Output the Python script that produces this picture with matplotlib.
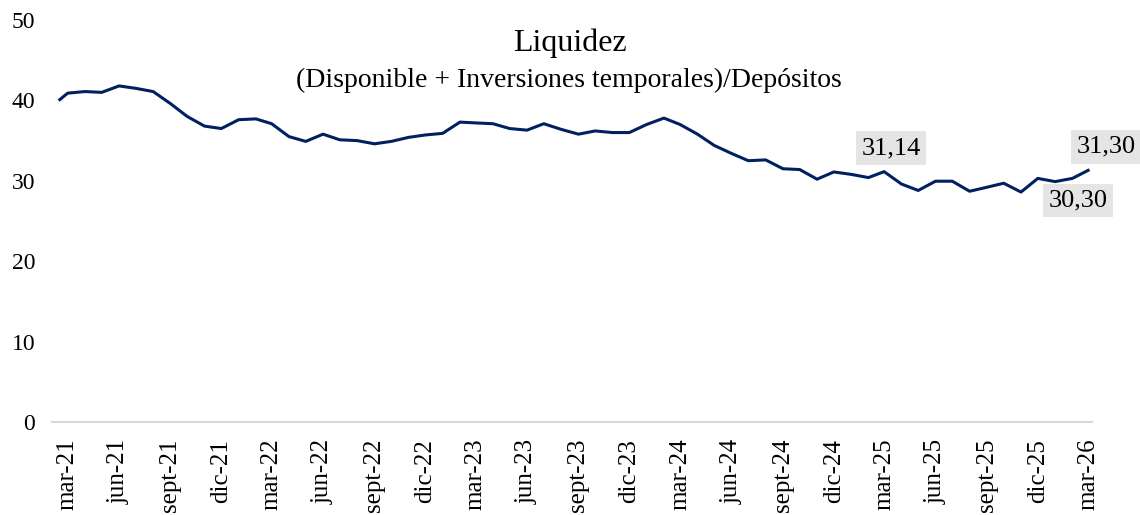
import numpy as np
import pandas as pd
import matplotlib
matplotlib.use("Agg")
import matplotlib.pyplot as plt

plt.rcParams['font.family'] = ['Liberation Serif', 'DejaVu Serif']

# Monthly liquidity ratio (%), first value is the opening point mid-Feb 2021
dates = pd.to_datetime(['2021-02-15']).append(
    pd.date_range('2021-03-01', '2026-03-01', freq='MS'))
liquidez = [
    40.1, 40.9, 41.1, 41.0, 41.8, 41.5, 41.1, 39.6, 38.0, 36.8, 36.5, 37.6, 37.7,
    37.1, 35.5, 34.9, 35.8, 35.1, 35.0, 34.6, 34.9, 35.4, 35.7, 35.9,
    37.3, 37.2, 37.1, 36.5, 36.3, 37.1, 36.4, 35.8, 36.2, 36.0, 36.0,
    37.0, 37.8, 37.0, 35.8, 34.4, 33.4, 32.5, 32.6, 31.5, 31.4, 30.2,
    31.1, 30.8, 30.4, 31.14, 29.6, 28.8, 29.95, 29.95, 28.7, 29.2, 29.7,
    28.6, 30.3, 29.9, 30.30, 31.30,
]

tick_dates = pd.date_range('2021-03-01', '2026-03-01', freq='3MS')
mes = {3: 'mar', 6: 'jun', 9: 'sept', 12: 'dic'}
tick_labels = [f"{mes[d.month]}-{d.strftime('%y')}" for d in tick_dates]

# data labels: (date, value text, offset in points)
etiquetas = [
    ('2025-03-01', '31,14', (5, 17)),
    ('2026-02-01', '30,30', (4, -16)),
    ('2026-03-01', '31,30', (13, 17)),
]

fig = plt.figure(figsize=(11.4, 5.15), dpi=100)
ax = fig.add_axes([52 / 1140, 93 / 515, 1040 / 1140, 402 / 515])

ax.plot(dates, liquidez, color='#002060', linewidth=2.2, solid_joinstyle='round')

for fecha, txt, off in etiquetas:
    fecha = pd.Timestamp(fecha)
    y = liquidez[list(dates).index(fecha)]
    ax.annotate(txt, (fecha, y), xytext=off, textcoords='offset points',
                ha='center', va='center', fontsize=19,
                bbox=dict(boxstyle='square,pad=0.22', fc='#e5e5e5', ec='none'))

ax.set_ylim(0, 50)
ax.set_yticks(np.arange(0, 51, 10))
ax.set_xlim(pd.Timestamp('2021-02-01'), pd.Timestamp('2026-03-08'))
ax.set_xticks(tick_dates)
ax.set_xticklabels(tick_labels, rotation=90, fontsize=18)
ax.tick_params(axis='y', labelsize=17, length=0, pad=12)
ax.tick_params(axis='x', length=0, pad=12)

for s in ['top', 'right', 'left']:
    ax.spines[s].set_visible(False)
ax.spines['bottom'].set_color('#d9d9d9')
ax.spines['bottom'].set_linewidth(1.5)

fig.text(570 / 1140, 1 - 43 / 515, 'Liquidez', ha='center', va='center', fontsize=23)
fig.text(569 / 1140, 1 - 80 / 515, '(Disponible + Inversiones temporales)/Depósitos',
         ha='center', va='center', fontsize=20)

fig.savefig('out.png', dpi=100)
